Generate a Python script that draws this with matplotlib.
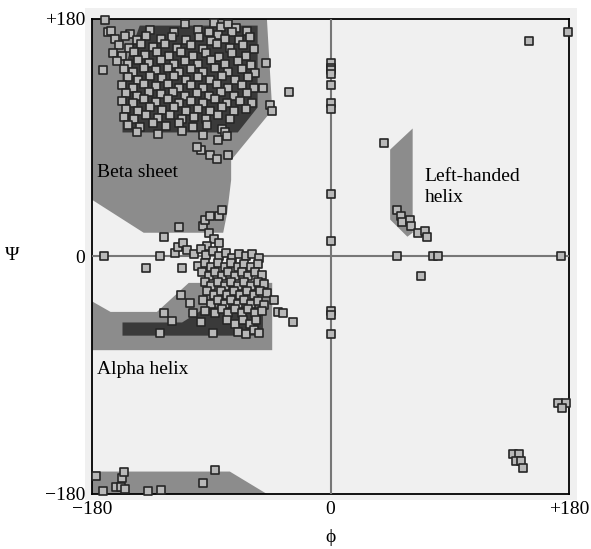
import matplotlib.pyplot as plt
from matplotlib.patches import Polygon, Rectangle

plt.rcParams['font.family'] = ['Liberation Serif', 'DejaVu Serif']

# allowed regions (phi, psi)
beta_light = [(-180, 180), (-48, 180), (-44, 111), (-75, 73), (-75, 58), (-78, 33),
              (-81, 18), (-141, 18), (-180, 43)]
beta_dark = [(-144, 175), (-55, 175), (-55, 113), (-70, 94), (-157, 94), (-157, 139)]
alpha_light = [(-180, -34), (-166, -42), (-131, -42), (-107, -20), (-44, -20),
               (-44, -71), (-180, -71)]
alpha_dark = [(-157, -50), (-112, -50), (-93, -38), (-51, -38), (-51, -60), (-157, -60)]
bottom_light = [(-180, -180), (-180, -163), (-76, -163), (-48, -180)]
left_helix = [(45, 81), (62, 97), (62, 18), (58, 15), (45, 28)]

# residues, beta region
beta_pts = [
    (-110, 176), (-88, 177), (-83, 174), (-77, 176), (-71, 173), (-92, 170),
    (-170, 179), (-168, 170), (-172, 141),
    (-166, 171), (-151, 169), (-136, 172), (-118, 170), (-85, 168), (-74, 170), (-63, 171), (-100, 172),
    (-163, 165), (-155, 167), (-146, 164), (-139, 167), (-128, 165), (-120, 166), (-109, 164),
    (-99, 166), (-90, 163), (-80, 165), (-69, 164), (-61, 166),
    (-160, 160), (-152, 158), (-143, 161), (-134, 159), (-125, 161), (-116, 158), (-105, 160),
    (-96, 157), (-86, 161), (-76, 158), (-66, 160), (-58, 157),
    (-164, 154), (-157, 152), (-148, 155), (-140, 153), (-131, 155), (-122, 152), (-113, 155),
    (-104, 152), (-94, 154), (-84, 151), (-74, 154), (-64, 152),
    (-161, 148), (-153, 146), (-145, 149), (-137, 147), (-128, 149), (-118, 146), (-110, 148),
    (-100, 146), (-90, 149), (-80, 146), (-70, 148), (-60, 145), (-49, 147),
    (-156, 142), (-149, 140), (-141, 143), (-132, 141), (-123, 143), (-114, 140), (-105, 142),
    (-96, 140), (-87, 143), (-77, 140), (-67, 142), (-57, 139),
    (-153, 136), (-145, 134), (-136, 137), (-127, 135), (-118, 137), (-109, 134), (-100, 136),
    (-91, 134), (-82, 137), (-72, 134), (-62, 136),
    (-157, 130), (-149, 128), (-141, 131), (-132, 129), (-123, 131), (-114, 128), (-105, 130),
    (-96, 128), (-86, 131), (-77, 128), (-67, 130), (-58, 128), (-51, 128), (-31, 125),
    (-154, 124), (-146, 122), (-137, 125), (-128, 123), (-119, 125), (-110, 122), (-101, 124),
    (-92, 122), (-83, 125), (-73, 122), (-63, 124),
    (-157, 118), (-149, 116), (-141, 119), (-132, 117), (-123, 119), (-114, 116), (-105, 118),
    (-96, 116), (-87, 119), (-78, 116), (-68, 118), (-59, 116), (-46, 115), (-44, 110),
    (-154, 112), (-145, 110), (-136, 113), (-127, 111), (-118, 113), (-109, 110), (-100, 112),
    (-91, 110), (-82, 113), (-73, 110), (-64, 112),
    (-156, 106), (-148, 104), (-139, 107), (-130, 105), (-121, 107), (-112, 104), (-103, 106),
    (-94, 104), (-85, 107), (-76, 104),
    (-153, 100), (-144, 98), (-134, 101), (-124, 99), (-114, 101), (-104, 98), (-93, 100), (-82, 97),
    (-146, 94), (-130, 93), (-112, 95), (-96, 92), (-80, 94),
    (-98, 81), (-91, 77), (-101, 83), (-85, 88), (-78, 91), (-77, 77), (-86, 74),
]

# residues, alpha region
alpha_pts = [
    (-96, 23), (-95, 28), (-91, 31), (-84, 31), (-82, 35), (-92, 18), (-88, 13), (-84, 10), (-93, 8),
    (-126, 15), (-114, 22), (-171, 0), (-139, -9),
    (-129, 0), (-117, 3), (-115, 7), (-111, 10), (-108, 5), (-103, 2), (-98, 6), (-94, 1), (-89, 4),
    (-84, 0), (-79, 3), (-74, -1), (-69, 2), (-64, 0), (-59, 2), (-54, -1),
    (-112, -9), (-100, -7), (-95, -5), (-90, -8), (-85, -5), (-80, -8), (-75, -5), (-70, -8),
    (-65, -6), (-60, -8), (-55, -6),
    (-97, -12), (-92, -15), (-87, -12), (-82, -15), (-77, -12), (-72, -15), (-67, -12),
    (-62, -15), (-57, -12), (-52, -14),
    (-95, -19), (-90, -22), (-85, -19), (-80, -22), (-75, -19), (-70, -22), (-65, -19),
    (-60, -22), (-55, -19), (-50, -21),
    (-113, -29), (-93, -26), (-88, -29), (-83, -26), (-78, -29), (-73, -26), (-68, -29),
    (-63, -26), (-58, -29), (-53, -26), (-48, -28), (-43, -33),
    (-106, -35), (-96, -33), (-90, -36), (-85, -33), (-80, -36), (-75, -33), (-70, -36),
    (-65, -33), (-60, -36), (-55, -34), (-50, -37), (-40, -42), (-36, -43),
    (-126, -43), (-104, -43), (-95, -41), (-87, -43), (-82, -40), (-77, -43), (-72, -40),
    (-67, -43), (-62, -40), (-57, -43), (-52, -41), (-28, -50),
    (-120, -49), (-98, -50), (-78, -48), (-72, -51), (-66, -48), (-61, -51), (-56, -48),
    (-129, -58), (-89, -58), (-70, -57), (-64, -59), (-58, -56), (-54, -58),
]

# other residues
other_pts = [
    (0, 147), (0, 143), (0, 141), (0, 138), (0, 130), (0, 116), (0, 112), (0, 47), (0, 12),
    (0, -41), (0, -44), (0, -59),
    (150, 163), (179, 170),
    (40, 86), (50, 35), (53, 31), (54, 26), (60, 28), (61, 23), (66, 18), (71, 19), (73, 15),
    (50, 0), (77, 0), (81, 0), (174, 0), (68, -15),
    (172, -111), (178, -111), (175, -115),
    (138, -150), (142, -150), (140, -155), (144, -155), (145, -160),
    (-177, -166), (-172, -178), (-162, -175), (-158, -175), (-157, -168), (-156, -163),
    (-155, -176), (-138, -178), (-128, -177), (-96, -172), (-87, -162),
]

fig = plt.figure(figsize=(5.91, 5.49), dpi=100)
bg = Rectangle((0.1438, 0.0893), 0.8325, 0.896, transform=fig.transFigure,
               facecolor='#f0f0f0', edgecolor='none', zorder=-10)
fig.add_artist(bg)
ax = fig.add_axes([0.1557, 0.1002, 0.8071, 0.8652])
ax.set_zorder(1)
ax.set_facecolor('#f0f0f0')

for poly in [beta_light, alpha_light, bottom_light, left_helix]:
    ax.add_patch(Polygon(poly, closed=True, facecolor='#8c8c8c', edgecolor='none', zorder=1))
for poly in [beta_dark, alpha_dark]:
    ax.add_patch(Polygon(poly, closed=True, facecolor='#3a3a3a', edgecolor='none', zorder=2))

ax.axhline(0, color='#777777', lw=1.5, zorder=3)
ax.axvline(0, color='#777777', lw=1.5, zorder=3)

pts = beta_pts + alpha_pts + other_pts
ax.scatter([p[0] for p in pts], [p[1] for p in pts], marker='s', s=36,
           facecolor='#b8b8b8', edgecolor='#262626', linewidth=1.2, zorder=4, clip_on=False)

ax.set_xlim(-180, 180)
ax.set_ylim(-180, 180)
ax.set_xticks([-180, 0, 180])
ax.set_xticklabels(['\u2212180', '0', '+180'])
ax.set_yticks([-180, 0, 180])
ax.set_yticklabels(['\u2212180', '0', '+180'])
ax.tick_params(length=0, labelsize=14, pad=5)
for s in ax.spines.values():
    s.set_linewidth(1.3)
    s.set_color('black')

ax.text(-176, 64, 'Beta sheet', fontsize=14, va='center', ha='left', zorder=5)
ax.text(-176, -86, 'Alpha helix', fontsize=14, va='center', ha='left', zorder=5)
ax.text(71, 53, 'Left-handed\nhelix', fontsize=14, va='center', ha='left', zorder=5,
        linespacing=1.3)

fig.text(12 / 591, 1 - 255 / 549, '\u03a8', fontsize=14, ha='center', va='center')
fig.text(331 / 591, 1 - 538 / 549, '\u03d5', fontsize=14, ha='center', va='center')

fig.savefig('out.png', dpi=100)
